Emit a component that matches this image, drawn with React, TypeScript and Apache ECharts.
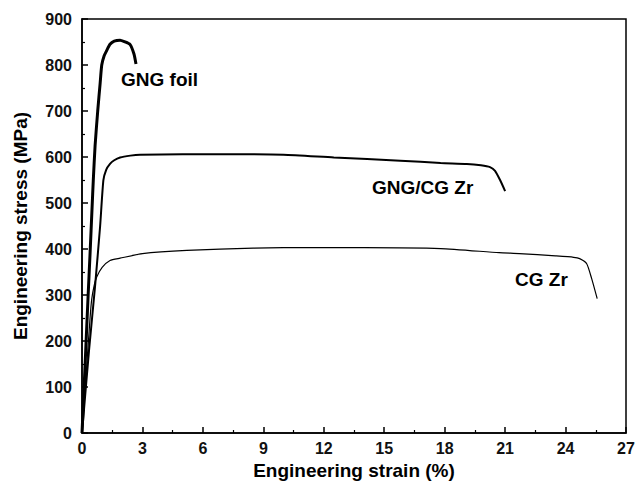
import React, { useEffect, useRef } from "react";
import * as echarts from "echarts";

// Strain (%) and stress (MPa)
const foilStrain = [0, 0.1, 0.2, 0.3, 0.4, 0.5, 0.56, 0.65, 0.78, 0.9, 0.98, 1.1, 1.22, 1.39, 1.6, 1.89, 2.1, 2.38, 2.58, 2.68];
const foilStress = [0, 95, 195, 295, 390, 490, 549, 625, 700, 760, 800, 820, 831, 845, 852, 854, 851, 845, 824, 802];

const gngStrain = [0, 0.35, 0.65, 0.9, 1.06, 1.2, 1.39, 1.6, 1.89, 2.4, 2.88, 5, 8, 10, 12.5, 15.8, 17.8, 19.1, 19.8, 20.25, 20.5, 20.75, 21.0];
const gngStress = [0, 180, 320, 450, 549, 572, 585, 593, 599, 603, 605, 606, 606, 605, 599, 592, 587, 585, 582, 578, 570, 550, 526];

const cgStrain = [0, 0.2, 0.4, 0.48, 0.6, 0.73, 1.0, 1.39, 1.89, 3.0, 5.2, 8.5, 10, 14, 17.8, 20.7, 21.7, 23.5, 24.4, 24.7, 25.05, 25.3, 25.57];
const cgStress = [0, 125, 250, 290, 320, 339, 360, 375, 380, 390, 397, 402, 403, 403, 401, 392, 390, 385, 382, 379, 368, 335, 292];

const seriesNames = ["GNG foil", "GNG/CG Zr", "CG Zr"];
const xTicks = { min: 0, max: 27, interval: 3 };
const yTicks = { min: 0, max: 900, interval: 100 };

const FONT = "Arial, 'Liberation Sans', sans-serif";

const zip = (xs: number[], ys: number[]) => xs.map((x, i) => [x, ys[i]]);

export default function App() {
  const ref = useRef<HTMLDivElement>(null);
  useEffect(() => {
    if (!ref.current) return;
    const chart = echarts.init(ref.current, undefined, { renderer: "svg" });
    const axisCommon = {
      axisLine: { show: true, onZero: false, lineStyle: { color: "#000", width: 1.5 } },
      axisTick: { show: true, inside: true, length: 6, lineStyle: { color: "#000", width: 1.5 } },
      minorTick: { show: true, splitNumber: 2, length: 3, lineStyle: { color: "#000", width: 1.2 } },
      splitLine: { show: false },
      axisLabel: { color: "#111", fontFamily: FONT, fontWeight: "bold" as const, fontSize: 16 },
      nameLocation: "middle" as const,
      nameTextStyle: { color: "#000", fontFamily: FONT, fontWeight: "bold" as const, fontSize: 19 },
    };
    chart.setOption({
      animation: false,
      backgroundColor: "#fff",
      grid: { left: 82, right: 16, top: 19, bottom: 57, show: true, borderColor: "#000", borderWidth: 1.5, backgroundColor: "transparent" },
      xAxis: {
        type: "value",
        ...xTicks,
        name: "Engineering strain (%)",
        nameGap: 22,
        ...axisCommon,
        axisLabel: { ...axisCommon.axisLabel, margin: 7 },
      },
      yAxis: {
        type: "value",
        ...yTicks,
        name: "Engineering stress (MPa)",
        nameGap: 52,
        ...axisCommon,
        axisLabel: { ...axisCommon.axisLabel, margin: 10 },
      },
      series: [
        {
          name: seriesNames[0], type: "line", showSymbol: false, smooth: 0.2,
          data: zip(foilStrain, foilStress), lineStyle: { color: "#000", width: 3 },
        },
        {
          name: seriesNames[1], type: "line", showSymbol: false, smooth: 0.2,
          data: zip(gngStrain, gngStress), lineStyle: { color: "#000", width: 2 },
        },
        {
          name: seriesNames[2], type: "line", showSymbol: false, smooth: 0.2,
          data: zip(cgStrain, cgStress), lineStyle: { color: "#000", width: 1.2 },
        },
      ],
      graphic: [
        { type: "text", left: 121, top: 70, style: { text: seriesNames[0], font: `bold 19px ${FONT}`, fill: "#000" } },
        { type: "text", left: 372, top: 178, style: { text: seriesNames[1], font: `bold 19px ${FONT}`, fill: "#000" } },
        { type: "text", left: 515, top: 270, style: { text: seriesNames[2], font: `bold 19px ${FONT}`, fill: "#000" } },
      ],
    });
    return () => chart.dispose();
  }, []);
  return <div ref={ref} style={{ width: 642, height: 490, position: "absolute", left: 0, top: 0 }} />;
}
